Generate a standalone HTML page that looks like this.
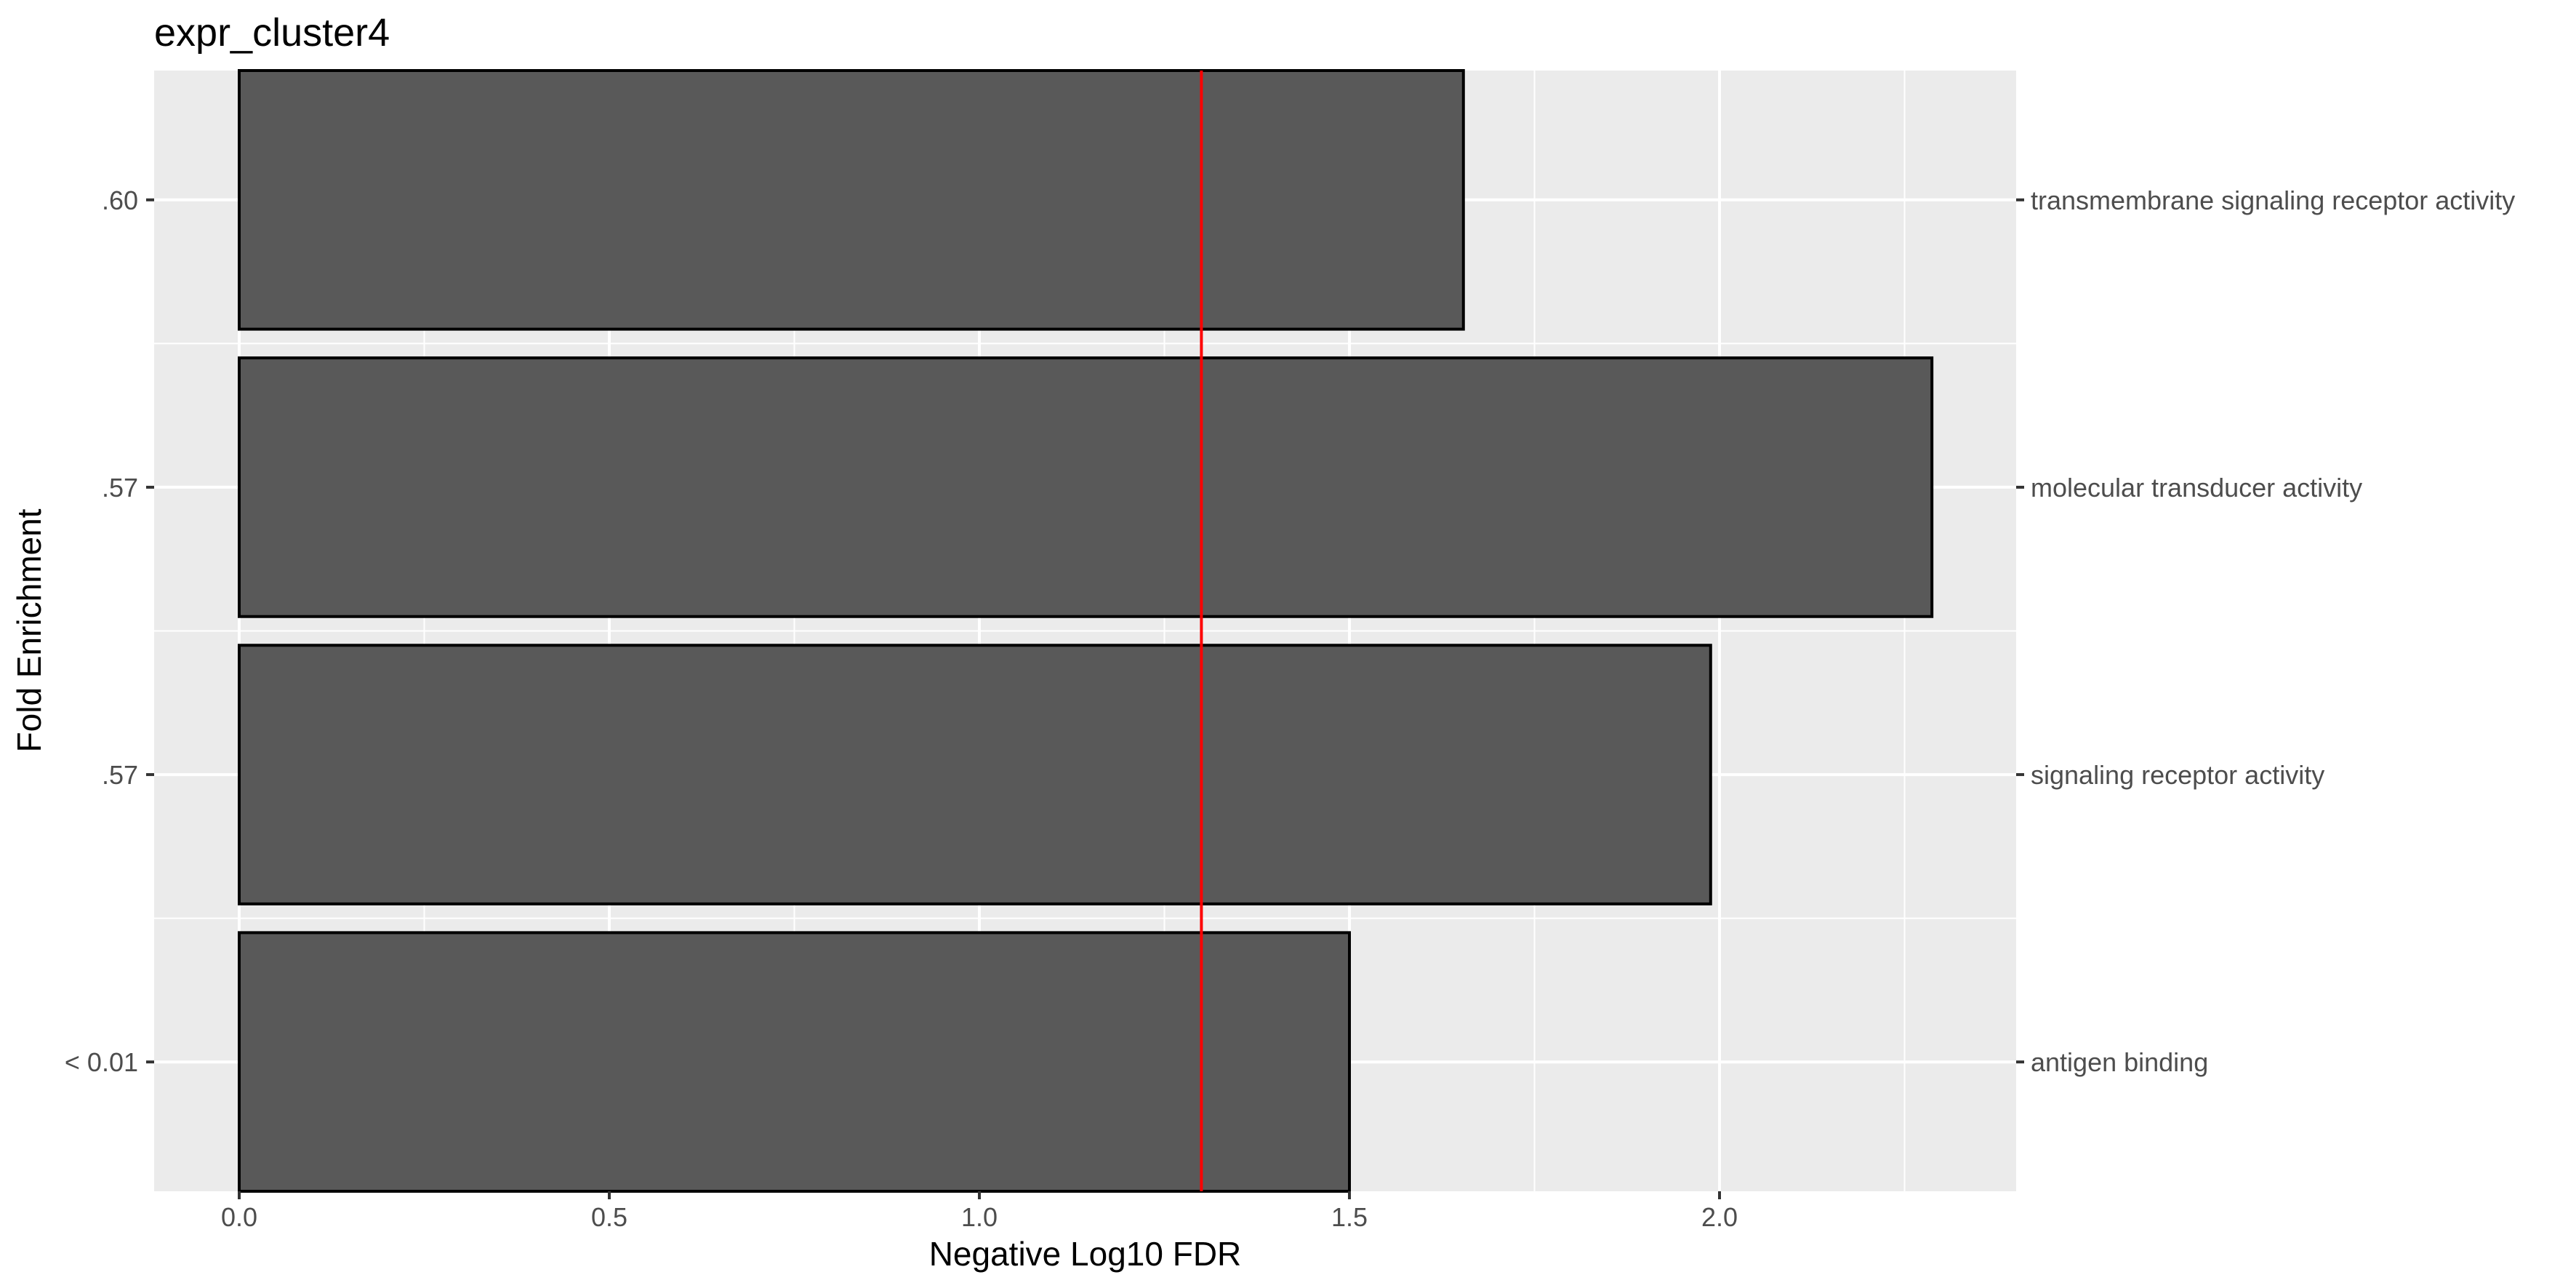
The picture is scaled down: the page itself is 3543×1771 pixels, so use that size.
<!DOCTYPE html>
<html><head><meta charset="utf-8"><style>
html,body{margin:0;padding:0;background:#fff;}
svg{display:block;font-family:"Liberation Sans",Arial,sans-serif;}
</style></head><body>
<svg id="chart" width="3543" height="1771" xmlns="http://www.w3.org/2000/svg"></svg>
<script>
const categories = ["transmembrane signaling receptor activity","molecular transducer activity","signaling receptor activity","antigen binding"];
const foldLabels = [".60",".57",".57","< 0.01"];
const values = [1.654, 2.287, 1.988, 1.50];
const xTicks = [0, 0.5, 1.0, 1.5, 2.0];
const xTickLabels = ["0.0","0.5","1.0","1.5","2.0"];
const xMinor = [0.25, 0.75, 1.25, 1.75, 2.25];
const threshold = 1.30;

const NS = "http://www.w3.org/2000/svg";
const svg = document.getElementById('chart');
const P = {l:212, r:2773, t:97, b:1638};
const x0 = 329, xUnit = 1018;
const xs = v => x0 + v*xUnit;
const step = (P.b - P.t)/(categories.length - 0.1);
const yc = i => P.t + step*0.45 + step*i;
function mk(tag, attrs, parent){const e=document.createElementNS(NS,tag);for(const k in attrs)e.setAttribute(k,attrs[k]);(parent||svg).appendChild(e);return e;}

let e = mk('rect',{x:P.l,y:P.t,width:P.r-P.l,height:P.b-P.t,fill:'#ebebeb'});



const grid = mk('g',{});


xMinor.forEach(v=>{mk('line',{x1:xs(v),x2:xs(v),y1:P.t,y2:P.b,stroke:'#fff','stroke-width':2},grid);});
for(let i=0;i<categories.length-1;i++){const y=(yc(i)+yc(i+1))/2;mk('line',{x1:P.l,x2:P.r,y1:y,y2:y,stroke:'#fff','stroke-width':2},grid);}
xTicks.forEach(v=>{mk('line',{x1:xs(v),x2:xs(v),y1:P.t,y2:P.b,stroke:'#fff','stroke-width':4},grid);});
categories.forEach((c,i)=>{mk('line',{x1:P.l,x2:P.r,y1:yc(i),y2:yc(i),stroke:'#fff','stroke-width':4},grid);});

categories.forEach((c,i)=>{
  const h = step*0.9;
  const b = mk('rect',{x:xs(0),y:yc(i)-h/2,width:xs(values[i])-xs(0),height:h,fill:'#595959',stroke:'#000','stroke-width':4});
  
  
});

e = mk('line',{x1:xs(threshold),x2:xs(threshold),y1:P.t,y2:P.b,stroke:'#ff0000','stroke-width':4});



xTicks.forEach((v,i)=>{
  mk('line',{x1:xs(v),x2:xs(v),y1:P.b,y2:P.b+11,stroke:'#333','stroke-width':4});
  const t = mk('text',{x:xs(v),y:1686,'text-anchor':'middle','font-size':36,fill:'#4d4d4d'});
  t.textContent = xTickLabels[i];
  
  
});
categories.forEach((c,i)=>{
  mk('line',{x1:P.l-11,x2:P.l,y1:yc(i),y2:yc(i),stroke:'#333','stroke-width':4});
  const t = mk('text',{x:P.l-22,y:yc(i)+13,'text-anchor':'end','font-size':36,fill:'#4d4d4d'});
  t.textContent = foldLabels[i];
  
  
  mk('line',{x1:P.r,x2:P.r+11,y1:yc(i),y2:yc(i),stroke:'#333','stroke-width':4});
  const r = mk('text',{x:2793,y:yc(i)+13,'font-size':36,fill:'#4d4d4d'});
  r.textContent = c;
  
  
});

e = mk('text',{x:212,y:63,'font-size':54,fill:'#000'});
e.textContent = 'expr_cluster4';



e = mk('text',{x:(P.l+P.r)/2,y:1740,'text-anchor':'middle','font-size':46,fill:'#000'});
e.textContent = 'Negative Log10 FDR';



e = mk('text',{x:0,y:0,'text-anchor':'middle','font-size':46,fill:'#000',transform:'translate(56,867) rotate(-90)'});
e.textContent = 'Fold Enrichment';


</script>
</body></html>
